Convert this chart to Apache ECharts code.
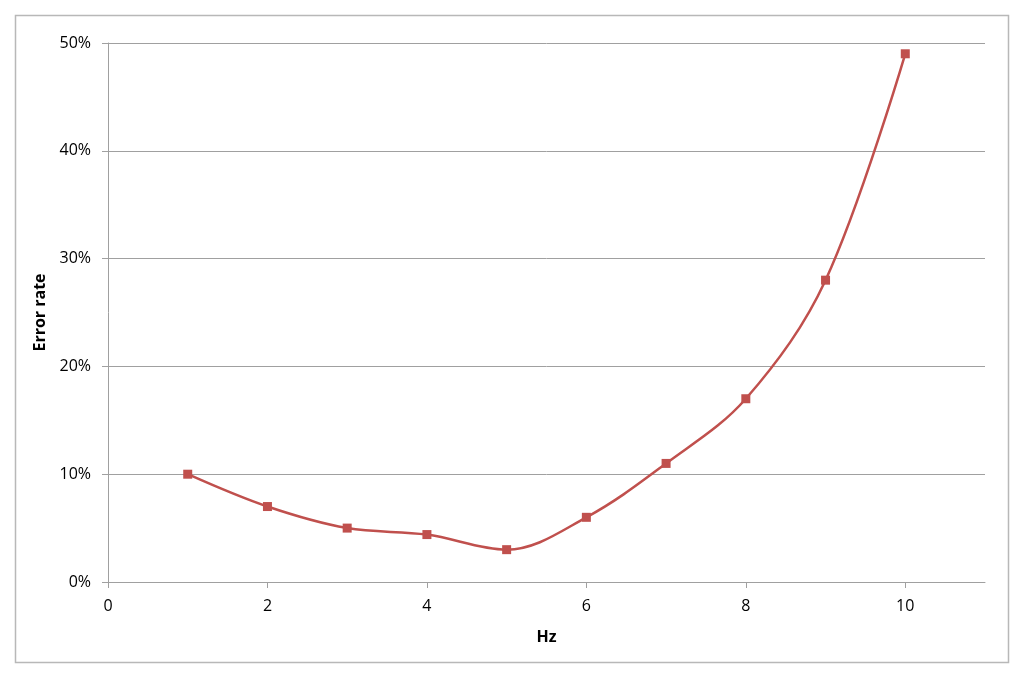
<!DOCTYPE html>
<html lang="en">
<head>
    <meta charset="UTF-8">
    <title>Error rate vs Hz</title>
    <script src="https://cdn.jsdelivr.net/npm/echarts@6/dist/echarts.min.js"></script>
    <style>
        html, body { margin: 0; padding: 0; background: #ffffff; }
        #chart { width: 1024px; height: 677px; }
    </style>
</head>
<body>
<div id="chart"></div>
<script type="text/javascript">
    // data
    var hz = [1, 2, 3, 4, 5, 6, 7, 8, 9, 10];
    var errorRate = [0.10, 0.07, 0.05, 0.044, 0.03, 0.06, 0.11, 0.17, 0.28, 0.49];
    var xTicks = [0, 2, 4, 6, 8, 10];

    var points = hz.map(function (h, i) { return [h, errorRate[i]]; });
    var font = 'Open Sans, Noto Sans, sans-serif';

    var chart = echarts.init(document.getElementById('chart'));
    var option = {
        backgroundColor: '#ffffff',
        animation: false,
        graphic: [{
            type: 'rect',
            shape: { x: 15.5, y: 15.5, width: 993, height: 647 },
            style: { fill: 'none', stroke: '#b8b8b8', lineWidth: 1.5 }
        }],
        grid: { left: 108, right: 39, top: 43, bottom: 95 },
        xAxis: {
            type: 'value',
            min: 0,
            max: 11,
            interval: 2,
            name: 'Hz',
            nameLocation: 'middle',
            nameGap: 47,
            nameTextStyle: { fontFamily: font, fontWeight: 'bold', fontSize: 16, color: '#000' },
            axisLine: { show: true, lineStyle: { color: '#a0a0a0' } },
            axisTick: { show: true, length: 6, lineStyle: { color: '#a0a0a0' } },
            axisLabel: {
                fontFamily: font, fontSize: 16, color: '#000', margin: 16,
                showMaxLabel: false,
                formatter: function (v) { return xTicks.indexOf(v) >= 0 ? String(v) : ''; }
            },
            splitLine: { show: false }
        },
        yAxis: {
            type: 'value',
            min: 0,
            max: 0.5,
            interval: 0.1,
            name: 'Error rate',
            nameLocation: 'middle',
            nameGap: 60,
            nameTextStyle: { fontFamily: font, fontWeight: 'bold', fontSize: 16, color: '#000' },
            axisLine: { show: true, lineStyle: { color: '#a0a0a0' } },
            axisTick: { show: true, inside: false, length: 6, lineStyle: { color: '#a0a0a0' } },
            axisLabel: {
                fontFamily: font, fontSize: 16, color: '#000', margin: 17,
                formatter: function (v) { return Math.round(v * 100) + '%'; }
            },
            splitLine: { show: true, lineStyle: { color: '#a0a0a0', width: 1 } }
        },
        series: [{
            type: 'line',
            data: points,
            smooth: 0.35,
            symbol: 'rect',
            symbolSize: 9,
            lineStyle: { color: '#c0504d', width: 2.5 },
            itemStyle: { color: '#c0504d' }
        }]
    };
    chart.setOption(option);
</script>
</body>
</html>
